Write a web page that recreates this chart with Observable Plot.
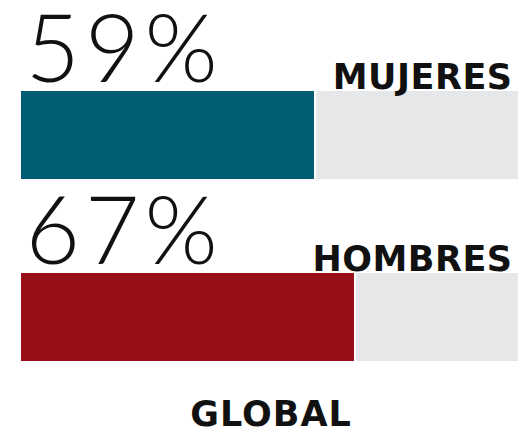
<!DOCTYPE html>
<html>
<head>
<meta charset="utf-8">
<script src="https://cdn.jsdelivr.net/npm/d3@7"></script>
<script src="https://cdn.jsdelivr.net/npm/@observablehq/plot@0.6"></script>
<style>
  html, body { margin: 0; padding: 0; background: #fff; }
</style>
</head>
<body>
<div id="chart"></div>
<script>
const categories = ["MUJERES", "HOMBRES"];
const values = [59, 67];
const barColors = ["#005d72", "#990f18"];
const footer = "GLOBAL";

const data = categories.map((c, i) => ({ cat: c, value: values[i], color: barColors[i], label: values[i] + "%" }));

const chart = Plot.plot({
  width: 521,
  height: 432,
  marginLeft: 21,
  marginRight: 3,
  marginTop: 0,
  marginBottom: 7,
  x: { domain: [0, 100], range: [21, 518], axis: null },
  y: { type: "band", domain: categories, range: [91, 361], paddingInner: 0.517, paddingOuter: 0, axis: null },
  marks: [
    Plot.barX(data, { x1: "value", x2: () => 100, y: "cat", fill: "#e6e7e9", insetLeft: 2 }),
    Plot.barX(data, { x1: () => 0, x2: "value", y: "cat", fill: d => d.color }),
    Plot.text(data, {
      x: () => 0, y: "cat", text: "label", textAnchor: "start", lineAnchor: "bottom",
      dy: -54, dx: 4, fontSize: 94, fontWeight: 300, fill: "#111",
      fontFamily: "Lato", className: "pct"
    }),
    Plot.text(data, {
      x: () => 100, y: "cat", text: "cat", textAnchor: "end", lineAnchor: "bottom",
      dy: -47, dx: -6, fontSize: 35, fontWeight: "bold", fill: "#111",
      fontFamily: "DejaVu Sans", className: "cat"
    }),
    Plot.text([footer], {
      frameAnchor: "bottom", text: d => d, lineAnchor: "bottom", dx: 1,
      fontSize: 35, fontWeight: "bold", fill: "#111", fontFamily: "DejaVu Sans", className: "foot"
    })
  ]
});
chart.style.fill = null;
d3.select(chart).selectAll("rect").attr("shape-rendering", "crispEdges");
d3.select(chart).selectAll(".pct text").attr("letter-spacing", "5px");
d3.select(chart).selectAll(".cat text").attr("letter-spacing", "0.5px");
d3.select(chart).selectAll(".foot text").attr("letter-spacing", "1px");
document.getElementById("chart").appendChild(chart);
</script>
</body>
</html>
